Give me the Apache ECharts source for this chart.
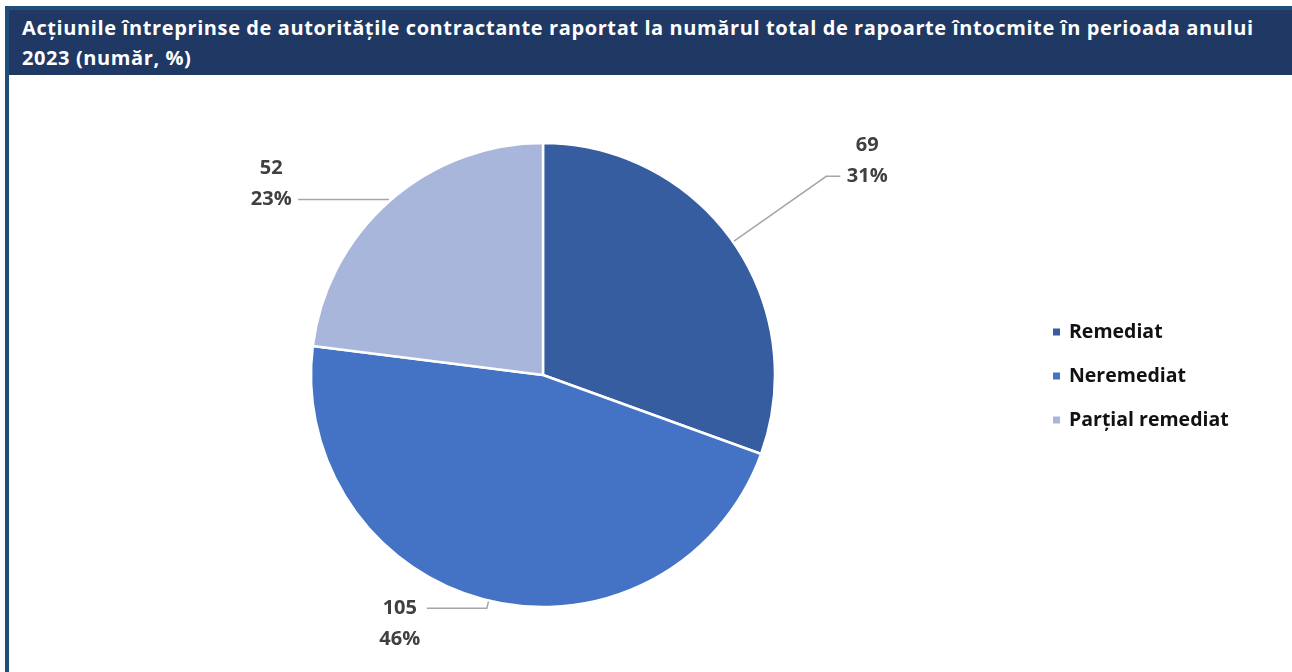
<!DOCTYPE html>
<html>
<head>
<meta charset="utf-8">
<script src="https://cdn.jsdelivr.net/npm/echarts@6/dist/echarts.min.js"></script>
<style>
  html, body { margin: 0; padding: 0; background: #fff; }
  #wrap { position: relative; width: 1292px; height: 672px; overflow: hidden; }
  #head {
    position: absolute; left: 5px; top: 6px; width: 1287px; height: 69px;
    background: #203864; border-top: 4px solid #1f4e79; box-sizing: border-box;
    color: #fff; font-family: "Open Sans", sans-serif; font-weight: bold;
    font-size: 20px; letter-spacing: 0.6px; line-height: 30px; padding: 3px 0 0 17px; z-index: 2;
    white-space: nowrap;
  }
  #side { position: absolute; left: 5px; top: 6px; width: 4px; height: 666px; background: #1f4e79; z-index: 3; }
  #chart { position: absolute; left: 0; top: 0; width: 1292px; height: 672px; }
</style>
</head>
<body>
<div id="wrap">
  <div id="head">Acțiunile întreprinse de autoritățile contractante raportat la numărul total de rapoarte întocmite în perioada anului<br>2023 (număr, %)</div>
  <div id="side"></div>
  <div id="chart"></div>
</div>
<script>
  // date
  var categories = ['Remediat', 'Neremediat', 'Parțial remediat'];
  var values = [69, 105, 52];
  var colors = ['#355d9f', '#4472c4', '#a9b6db'];

  // cum sta fiecare eticheta fata de linie
  var lineLen = [114, 8, 2];
  var lineLen2 = [14, 60, 90];
  var labelPad = [[0, 0, 31, 0], [31, 0, 0, 0], [0, 0, 31, 0]];

  var data = categories.map(function (name, i) {
    return {
      name: name,
      value: values[i],
      itemStyle: { color: colors[i] },
      labelLine: { length: lineLen[i], length2: lineLen2[i] },
      label: { padding: labelPad[i] }
    };
  });

  var myChart = echarts.init(document.getElementById('chart'));
  var option = {
    animation: false,
    legend: {
      orient: 'vertical',
      left: 1046,
      top: 317,
      itemWidth: 9,
      itemHeight: 9,
      itemGap: 24,
      icon: 'rect',
      data: categories,
      textStyle: {
        fontFamily: 'Open Sans',
        fontWeight: 'bold',
        fontSize: 19.5,
        color: '#111',
        padding: [0, 0, 0, 3]
      }
    },
    series: [
      {
        type: 'pie',
        center: [543, 375],
        radius: 232,
        startAngle: 90,
        clockwise: true,
        percentPrecision: 0,
        itemStyle: { borderColor: '#fff', borderWidth: 2.5 },
        label: {
          show: true,
          position: 'outside',
          formatter: '{v|{c}}\n{v|{d}%}',
          distanceToLabelLine: 3,
          rich: {
            v: {
              width: 48,
              align: 'center',
              fontFamily: 'Open Sans',
              fontWeight: 'bold',
              fontSize: 20,
              lineHeight: 31,
              color: '#404040'
            }
          }
        },
        labelLine: {
          show: true,
          smooth: false,
          lineStyle: { color: '#a6a6a6', width: 1.5 }
        },
        emphasis: { disabled: true },
        data: data
      }
    ]
  };
  myChart.setOption(option);
</script>
</body>
</html>
